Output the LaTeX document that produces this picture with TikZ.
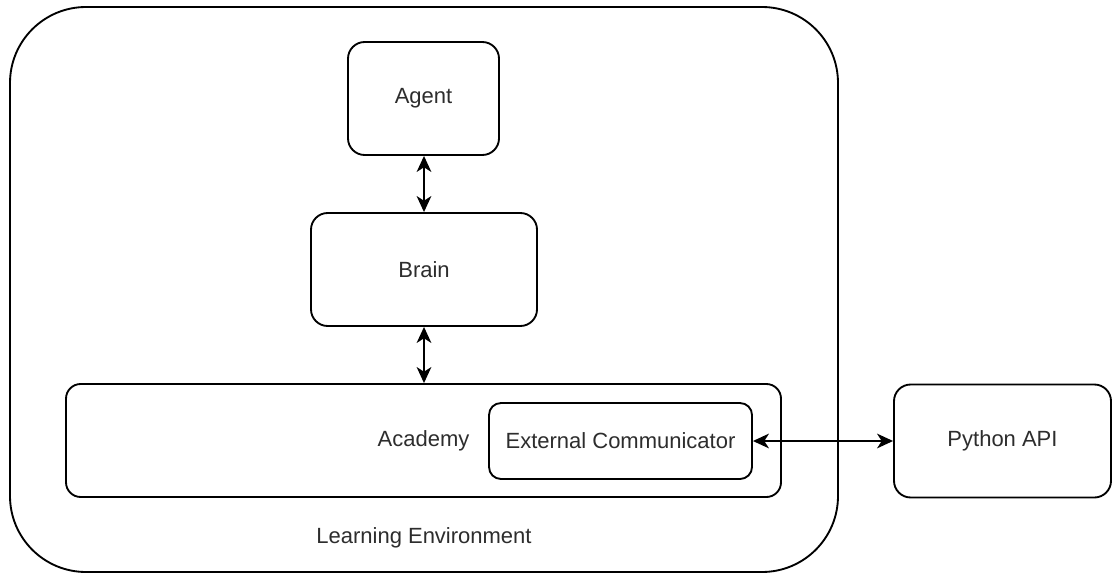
\documentclass[tikz,border=0pt]{standalone}
\usepackage{fontspec}
\setmainfont{Liberation Sans}
\usetikzlibrary{arrows.meta}
\definecolor{labelgray}{RGB}{45,45,45}
\tikzset{
  box/.style={draw=black, line width=1.4pt, rounded corners=12.5pt, fill=white,
              text=labelgray, font=\fontsize{16.5}{20}\selectfont, inner sep=0pt},
  plain/.style={text=labelgray, font=\fontsize{16.5}{20}\selectfont, inner sep=0pt},
  tipend/.style={Stealth[length=12pt,width=11pt,inset=3.5pt]},
  biarrow/.style={line width=1.4pt, {Stealth[length=12pt,width=11pt,inset=3.5pt]}-{Stealth[length=12pt,width=11pt,inset=3.5pt]}}
}
\begin{document}
\begin{tikzpicture}[x=0.75pt,y=-0.75pt]
  \useasboundingbox (0,0) rectangle (1113,574);

  % learning environment container
  \node[box, rounded corners=57pt, minimum width=621pt, minimum height=423.75pt]
    (env) at (424,289.5) {};
  \node[plain] (envlabel) at (424,538) {Learning Environment};

  % inner components
  \node[box, minimum width=113.25pt, minimum height=84.75pt] (agent) at (423.5,98.5) {Agent};
  \node[box, minimum width=169.5pt, minimum height=84.75pt] (brain) at (424,269.5) {Brain};
  \node[box, rounded corners=11pt, minimum width=536.25pt, minimum height=84.75pt] (academy) at (423.5,440.5) {Academy};
  \node[box, rounded corners=9pt, minimum width=197.25pt, minimum height=57pt] (extcomm) at (620.5,441) {External Communicator};

  % external python side
  \node[box, minimum width=162.75pt, minimum height=84.75pt] (python) at (1002.5,441) {Python API};

  % connectors
  \draw[biarrow] (agent.south -| brain.north) -- (brain.north);
  \draw[biarrow] (brain.south) -- (brain.south |- academy.north);
  \draw[biarrow] (extcomm.east) -- (python.west);
\end{tikzpicture}
\end{document}
